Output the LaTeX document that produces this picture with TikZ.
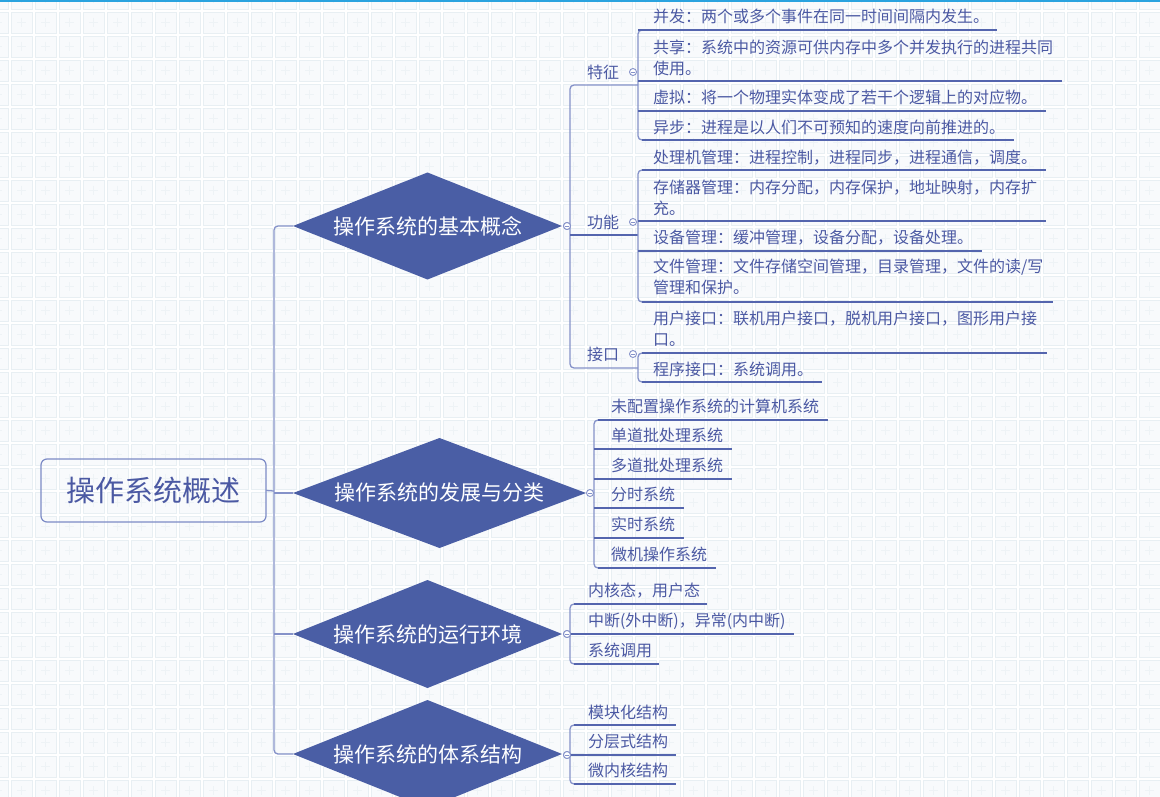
\documentclass[tikz,border=0pt]{standalone}
\usepackage{fontspec}
\newfontfamily\cjk{Noto Sans CJK SC}
\usetikzlibrary{shapes.geometric}
\definecolor{diacol}{HTML}{4A5EA5}
\definecolor{txtcol}{HTML}{4B59A3}
\definecolor{conncol}{HTML}{8592C9}
\definecolor{ulcol}{HTML}{5465AE}
\definecolor{rootcol}{HTML}{7C8BC6}
\definecolor{tileb}{HTML}{E8EFF3}
\definecolor{tilef}{HTML}{F8FAFC}
\definecolor{tilei}{HTML}{EEF3F6}
\definecolor{topbar}{HTML}{2AA3DF}
\tikzset{
  leaf/.style={anchor=west, inner sep=0pt, outer sep=0pt, text=txtcol, font=\cjk\fontsize{16}{21}\selectfont, align=left},
  dnode/.style={diamond, fill=diacol, draw=none, text=white, inner sep=0pt, outer sep=0pt, aspect=2.6, font=\cjk\fontsize{21}{25}\selectfont},
  rootbox/.style={draw=rootcol, rounded corners=6pt, line width=1.2pt, text=txtcol, inner sep=0pt, outer sep=0pt, minimum width=225pt, minimum height=63pt, font=\cjk\fontsize{29}{34}\selectfont},
  conn/.style={draw=conncol, line width=1.3pt, rounded corners=4pt},
  uline/.style={draw=ulcol, line width=1.3pt},
  fold/.style={circle, draw=conncol, fill=white, line width=0.9pt, minimum size=7pt, inner sep=0pt, outer sep=0pt,
    path picture={\draw[draw=conncol, line width=0.9pt] ([xshift=-2pt]path picture bounding box.center) -- ([xshift=2pt]path picture bounding box.center);}},
  tile/.style={draw=tileb, fill=tilef, line width=0.9pt},
  tilein/.style={draw=tilei, line width=1.2pt},
}
\begin{document}
\begin{tikzpicture}[x=1pt,y=-1pt]
\useasboundingbox (0,0) rectangle (1160,797);
\clip (0,0) rectangle (1160,797);
\fill[white] (0,0) rectangle (1160,797);
% background tiles
\foreach \i in {0,...,49}{
  \foreach \j in {0,...,34}{
    \path[tile] ({-13+24*\i},{-12+24*\j}) rectangle ++(21,21);
    \draw[tilein] ({-2.5+24*\i},{-6+24*\j}) -- ++(0,9) ({-7+24*\i},{-1.5+24*\j}) -- ++(9,0);
  }
}
\fill[topbar] (0,0) rectangle (1160,1.8);

% root and diamonds
\node[rootbox] (root) at (153.5,490.5) {操作系统概述};
\node[dnode, minimum width=269pt, minimum height=107pt] (d1) at (427.5,226) {操作系统的基本概念};
\node[dnode, minimum width=293pt, minimum height=110pt] (d2) at (439.5,493) {操作系统的发展与分类};
\node[dnode, minimum width=269pt, minimum height=108pt] (d3) at (427.5,634) {操作系统的运行环境};
\node[dnode, minimum width=269pt, minimum height=108pt] (d4) at (427.5,754) {操作系统的体系结构};

\coordinate (trunktop) at (274,226);
\coordinate (trunkbot) at (274,754);
\draw[conn] (d1.west) -- (trunktop) -- (trunkbot) -- (d4.west);
\draw[conn] (root.east) -- (274,491);
\draw[conn] (274,493) -- (d2.west);
\draw[conn] (274,634) -- (d3.west);

\node[fold] (f1) at (567,226) {};
\node[fold] (f2) at (590,493) {};
\node[fold] (f3) at (567,634) {};
\node[fold] (f4) at (567,755) {};

% ---- branch 1: level 2
\node[leaf] (tz) at (587,72) {特征};
\node[leaf] (gn) at (587,222) {功能};
\node[leaf] (jk) at (587,354) {接口};
\node[fold] (g1) at (633,72) {};
\node[fold] (g2) at (633,222) {};
\node[fold] (g3) at (633,354) {};
\draw[conn] (638,85) -- (570,85) -- (570,368) -- (638,368);
\draw[uline] (570,235) -- (638,235);

% ---- 特征 children
\node[leaf] (a1) at (653,16) {并发：两个或多个事件在同一时间间隔内发生。};
\node[leaf] (a2) at (653,57.5) {共享：系统中的资源可供内存中多个并发执行的进程共同\\使用。};
\node[leaf] (a3) at (653,97) {虚拟：将一个物理实体变成了若干个逻辑上的对应物。};
\node[leaf] (a4) at (653,127) {异步：进程是以人们不可预知的速度向前推进的。};
\draw[conn] (648,30) -- (638,30) -- (638,140) -- (648,140);
\draw[uline] (638,30) -- (997,30);
\draw[uline] (638,81) -- (1062,81);
\draw[uline] (638,111) -- (1046,111);
\draw[uline] (642,140) -- (1014,140);

% ---- 功能 children
\node[leaf] (b1) at (653,158) {处理机管理：进程控制，进程同步，进程通信，调度。};
\node[leaf] (b2) at (653,197.5) {存储器管理：内存分配，内存保护，地址映射，内存扩\\充。};
\node[leaf] (b3) at (653,238) {设备管理：缓冲管理，设备分配，设备处理。};
\node[leaf] (b4) at (653,276.5) {文件管理：文件存储空间管理，目录管理，文件的读/写\\管理和保护。};
\draw[conn] (648,170) -- (638,170) -- (638,302) -- (648,302);
\draw[uline] (642,170) -- (1046,170);
\draw[uline] (638,221) -- (1046,221);
\draw[uline] (638,251) -- (982,251);
\draw[uline] (642,302) -- (1053,302);

% ---- 接口 children
\node[leaf] (c1) at (653,328.5) {用户接口：联机用户接口，脱机用户接口，图形用户接\\口。};
\node[leaf] (c2) at (653,369) {程序接口：系统调用。};
\draw[conn] (648,353) -- (638,353) -- (638,382) -- (648,382);
\draw[uline] (642,353) -- (1047,353);
\draw[uline] (642,382) -- (822,382);

% ---- branch 2
\node[leaf] (e1) at (611,406) {未配置操作系统的计算机系统};
\node[leaf] (e2) at (611,435) {单道批处理系统};
\node[leaf] (e3) at (611,465) {多道批处理系统};
\node[leaf] (e4) at (611,494) {分时系统};
\node[leaf] (e5) at (611,524) {实时系统};
\node[leaf] (e6) at (611,554) {微机操作系统};
\draw[conn] (604,420) -- (594,420) -- (594,568) -- (604,568);
\draw[uline] (598,420) -- (828,420);
\draw[uline] (594,449) -- (732,449);
\draw[uline] (594,479) -- (732,479);
\draw[uline] (594,508) -- (684,508);
\draw[uline] (594,538) -- (684,538);
\draw[uline] (598,568) -- (716,568);

% ---- branch 3
\node[leaf] (h1) at (588,591) {内核态，用户态};
\node[leaf] (h2) at (588,621) {中断(外中断)，异常(内中断)};
\node[leaf] (h3) at (588,650) {系统调用};
\draw[conn] (580,604) -- (570,604) -- (570,664) -- (580,664);
\draw[uline] (574,604) -- (707,604);
\draw[uline] (570,634) -- (794,634);
\draw[uline] (574,664) -- (659,664);

% ---- branch 4
\node[leaf] (k1) at (588,712) {模块化结构};
\node[leaf] (k2) at (588,741) {分层式结构};
\node[leaf] (k3) at (588,770) {微内核结构};
\draw[conn] (580,725) -- (570,725) -- (570,784) -- (580,784);
\draw[uline] (574,725) -- (676,725);
\draw[uline] (570,755) -- (676,755);
\draw[uline] (574,784) -- (676,784);

% redraw fold markers on top
\node[fold] at (f1) {};
\node[fold] at (f3) {};
\node[fold] at (f4) {};
\end{tikzpicture}
\end{document}
